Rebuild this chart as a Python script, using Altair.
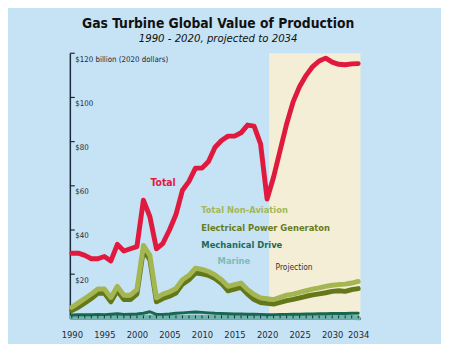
import altair as alt
import pandas as pd

years = list(range(1990, 2035))
total = [29.5, 29.5, 28.5, 27, 27, 28, 26, 33.5, 30.5, 31.5, 32.5, 53.5, 46, 31.5, 34,
         40, 47, 58, 62, 68, 68, 71, 77.5, 80.5, 82.5, 82.5, 84, 87.5, 87, 79,
         54, 64, 76, 88, 98, 105, 110, 114, 116.5, 117.8, 116, 115, 114.8, 115.2, 115.3]
non_aviation = [5, 7, 9, 11, 13.3, 13.3, 9.5, 14.5, 10.5, 10.5, 13, 33, 28.5, 9.3, 11,
                12, 13.5, 17.5, 19.5, 22.7, 22.2, 21.2, 19.7, 17.5, 14.5, 15.3, 16, 13, 10.8, 9.3,
                8.9, 8.5, 9.5, 10.5, 11, 11.8, 12.5, 13.2, 13.8, 14.5, 15, 15.3, 15.5, 16, 16.7]
electrical = [3.5, 5, 7, 9, 11.3, 11.5, 7.5, 12.5, 8.5, 8.5, 11, 31, 26.5, 7.5, 9,
              10, 11.5, 15.5, 17.5, 20.5, 20.2, 19.5, 18, 15.8, 12.5, 13.2, 14, 11, 8.5, 7.2,
              6.8, 6.5, 7.2, 8, 8.6, 9.3, 10, 10.6, 11.1, 11.6, 12.2, 12.5, 12.2, 13, 13.5]
mechanical = [1.5, 1.6, 1.7, 1.6, 1.8, 1.7, 1.9, 2.1, 1.8, 1.9, 2.0, 2.3, 3.0, 1.8, 1.8,
              2.0, 2.3, 2.5, 2.7, 2.9, 2.7, 2.5, 2.3, 2.2, 2.1, 2.0, 2.0, 1.9, 1.9, 1.8,
              1.6, 1.7, 1.8, 1.8, 1.9, 1.9, 2.0, 2.0, 2.1, 2.1, 2.2, 2.2, 2.2, 2.3, 2.3]
marine = [0.5] * 44 + [0.2]

y_ticks = [20, 40, 60, 80, 100, 120]
x_labels = [1990, 1995, 2000, 2005, 2010, 2015, 2020, 2025, 2030, 2034]

labels = pd.DataFrame({
    "text": ["Total", "Total Non-Aviation", "Electrical Power Generaton",
             "Mechanical Drive", "Marine", "Projection"],
    "year": [2002.1, 2009.9, 2009.9, 2009.9, 2012.4, 2021.3],
    "val": [61.2, 48.9, 40.9, 33.3, 25.8, 23.1],
    "color": ["#e01a3e", "#a3b857", "#687b1b", "#1b6b55", "#7bbdb5", "#333333"],
    "size": [10.5, 9.5, 9.5, 9.5, 9.5, 8.5],
    "weight": ["bold", "bold", "bold", "bold", "bold", "normal"],
})

df = pd.DataFrame({"year": years, "total": total, "nonav": non_aviation,
                   "elec": electrical, "mech": mechanical, "marine": marine})

FONT = "Liberation Sans Narrow, DejaVu Sans Condensed, sans-serif"
W, H = 296, 270

xs = alt.Scale(domain=[1989.7, 2034.35], nice=False, zero=False)
ys = alt.Scale(domain=[0, 120], nice=False)

x_axis = alt.Axis(values=x_labels, format="d", title=None, ticks=False, domain=True,
                  domainColor="#1a2a3a", domainWidth=1.5, grid=False,
                  labelFont=FONT, labelFontSize=9.5, labelColor="#1a2a3a",
                  labelPadding=12, labelFontWeight="normal", labelOverlap=False,
                  labelFlush=False, labelBound=False)
y_axis = alt.Axis(values=[0] + y_ticks, title=None, ticks=False, domain=True,
                  domainColor="#1a2a3a", domainWidth=1.5, grid=False,
                  labelAlign="left", labelBaseline="top", labelPadding=-5, labelOffset=2,
                  labelFont=FONT, labelFontSize=8, labelColor="#1a2a3a",
                  labelBound=False, labelFlush=False, labelOverlap=False,
                  labelExpr="datum.value == 120 ? '$120 billion (2020 dollars)' : (datum.value == 0 ? '' : '$' + datum.value)")

base = alt.Chart(df)

shade = alt.Chart(pd.DataFrame({"a": [2020.3], "b": [2034.35], "lo": [0], "hi": [120]})).mark_rect(
    color="#f3eed5").encode(
    x=alt.X("a:Q", scale=xs, axis=x_axis), x2="b:Q",
    y=alt.Y("lo:Q", scale=ys, axis=y_axis), y2="hi:Q")

def line(col, color, width):
    return base.mark_line(color=color, strokeWidth=width, strokeJoin="round", strokeCap="round").encode(
        x=alt.X("year:Q", scale=xs, axis=x_axis), y=alt.Y(f"{col}:Q", scale=ys, axis=y_axis))

marine_l = line("marine", "#6fb3ad", 5)
mech_l = line("mech", "#17684f", 3)
elec_l = line("elec", "#64781a", 5)
nonav_l = line("nonav", "#a4b651", 5)
total_l = line("total", "#e01a3e", 5)

ytick_rules = alt.Chart(pd.DataFrame({"v": y_ticks})).mark_rule(color="#1a2a3a", strokeWidth=1.2).encode(
    y=alt.Y("v:Q", scale=ys, axis=y_axis), x=alt.value(0), x2=alt.value(5))

xminor = alt.Chart(pd.DataFrame({"yr": years})).mark_rule(color="#1a2a3a", strokeWidth=1).encode(
    x=alt.X("yr:Q", scale=xs, axis=x_axis), y=alt.value(H - 3), y2=alt.value(H))

texts = []
for _, r in labels.iterrows():
    texts.append(alt.Chart(pd.DataFrame([r])).mark_text(
        align="left", baseline="middle", font=FONT, fontSize=float(r["size"]),
        fontWeight=r["weight"], color=r["color"]).encode(
        x=alt.X("year:Q", scale=xs, axis=x_axis), y=alt.Y("val:Q", scale=ys, axis=y_axis),
        text="text:N"))

chart = alt.layer(shade, marine_l, mech_l, elec_l, nonav_l, total_l, xminor, ytick_rules, *texts).properties(
    width=W, height=H,
    title=alt.TitleParams(
        "Gas Turbine Global Value of Production",
        subtitle="1990 - 2020, projected to 2034",
        anchor="middle", frame="group", dx=3, offset=8,
        font=FONT, fontSize=14, fontWeight="bold", color="#111111",
        subtitleFont=FONT, subtitleFontSize=11.5, subtitleFontStyle="italic",
        subtitleColor="#111111", subtitlePadding=3),
    padding={"left": 63, "top": 43, "right": 82, "bottom": 23},
    autosize="none",
).configure(background="#c6e2f5").configure_view(stroke=None).configure_axis(
    labelOverlap=False)

chart.save("out.html", embed_options={"renderer": "svg", "actions": False})
